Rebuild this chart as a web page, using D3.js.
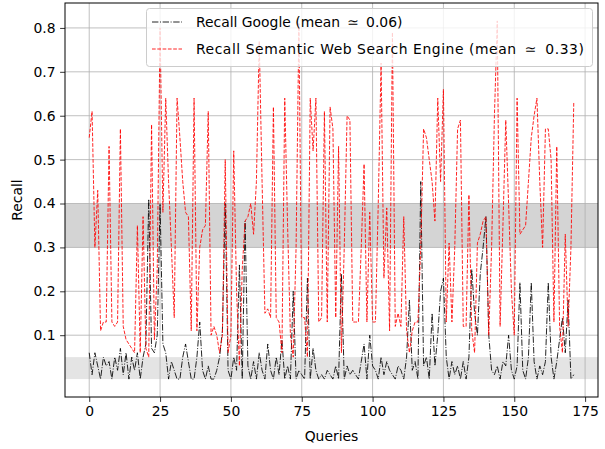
<!DOCTYPE html>
<html>
<head>
<meta charset="utf-8">
<script src="https://cdn.jsdelivr.net/npm/d3@7"></script>
<style>
  body { margin: 0; background: #fff; }
  text { font-family: "DejaVu Sans", sans-serif; fill: #000; }
</style>
</head>
<body>
<svg id="graph"></svg>
<script>
// recall per query
var recallSemantic = [
  0.55,0.61,0.30,0.43,0.11,0.13,0.13,0.53,0.13,0.12,
  0.13,0.57,0.12,0.09,0.08,0.07,0.06,0.35,0.06,0.37,
  0.07,0.05,0.58,0.09,0.25,0.80,0.38,0.64,0.45,0.30,
  0.14,0.64,0.55,0.45,0.38,0.37,0.11,0.64,0.11,0.30,
  0.34,0.35,0.61,0.10,0.12,0.10,0.06,0.10,0.50,0.06,
  0.10,0.52,0.20,0.03,0.25,0.36,0.37,0.40,0.33,0.45,
  0.77,0.45,0.15,0.16,0.14,0.62,0.14,0.13,0.06,0.64,
  0.35,0.10,0.05,0.30,0.81,0.14,0.14,0.05,0.64,0.52,
  0.64,0.13,0.14,0.61,0.13,0.62,0.57,0.14,0.53,0.06,
  0.30,0.60,0.59,0.13,0.13,0.13,0.30,0.49,0.13,0.38,0.13,
  0.13,0.40,0.72,0.23,0.39,0.11,0.79,0.12,0.15,0.12,
  0.37,0.11,0.06,0.11,0.13,0.13,0.30,0.57,0.55,0.50,
  0.45,0.36,0.64,0.45,0.66,0.13,0.31,0.13,0.30,0.57,
  0.59,0.12,0.12,0.42,0.11,0.06,0.31,0.33,0.36,0.37,
  0.10,0.30,0.60,0.816,0.12,0.35,0.59,0.40,0.20,0.10,
  0.64,0.33,0.34,0.35,0.45,0.55,0.60,0.64,0.45,0.30,
  0.57,0.57,0.50,0.13,0.53,0.12,0.06,0.33,0.12,0.30,0.63
];
var recallGoogle = [
  0.06,0.01,0.06,0.03,0.00,0.05,0.03,0.04,0.00,0.05,
  0.02,0.07,0.01,0.06,0.00,0.05,0.02,0.06,0.00,0.05,
  0.08,0.41,0.07,0.06,0.10,0.40,0.08,0.06,0.00,0.04,
  0.02,0.00,0.00,0.05,0.08,0.04,0.00,0.00,0.05,0.13,
  0.02,0.00,0.03,0.00,0.00,0.02,0.05,0.11,0.40,0.02,
  0.00,0.05,0.02,0.26,0.00,0.36,0.03,0.00,0.04,0.00,
  0.06,0.02,0.00,0.08,0.02,0.00,0.05,0.01,0.09,0.00,
  0.03,0.00,0.20,0.00,0.02,0.01,0.00,0.23,0.00,0.07,
  0.02,0.00,0.01,0.00,0.02,0.01,0.00,0.03,0.00,0.24,
  0.00,0.03,0.01,0.02,0.01,0.00,0.04,0.08,0.00,0.10,0.03,
  0.02,0.00,0.05,0.01,0.04,0.02,0.01,0.00,0.03,0.02,
  0.00,0.05,0.18,0.02,0.04,0.00,0.45,0.03,0.05,0.00,
  0.15,0.03,0.10,0.20,0.23,0.05,0.00,0.04,0.01,0.03,
  0.00,0.04,0.00,0.05,0.25,0.15,0.10,0.24,0.30,0.37,
  0.10,0.02,0.01,0.03,0.00,0.04,0.03,0.10,0.02,0.00,
  0.03,0.22,0.02,0.00,0.05,0.22,0.04,0.00,0.03,0.01,
  0.04,0.22,0.05,0.00,0.04,0.09,0.14,0.06,0.18,0.00,0.01
];
var seriesLabels = ["Recall Google (mean \u2009\u2243\u2009 0.06)",
                    "Recall Semantic Web Search Engine (mean \u2009\u2243\u2009 0.33)"];
var xTicks = [0, 25, 50, 75, 100, 125, 150, 175];
var yTicks = [0.1, 0.2, 0.3, 0.4, 0.5, 0.6, 0.7, 0.8];
var bands = [[0.3, 0.4], [0, 0.05]];

function drawChart() {
    var width = 605, height = 449;
    var margin = {top: 3, right: 7, bottom: 52, left: 65};
    var w = width - margin.left - margin.right;
    var h = height - margin.top - margin.bottom;

    var svg = d3.select("#graph")
        .attr("width", width)
        .attr("height", height);
    var g = svg.append("g")
        .attr("transform", "translate(" + margin.left + "," + margin.top + ")");

    // matplotlib style 5% margins
    var n = recallSemantic.length - 1;
    var ymax = d3.max(recallSemantic.concat(recallGoogle));
    var x = d3.scaleLinear().domain([-0.05 * n, n * 1.05]).range([0, w]);
    var y = d3.scaleLinear().domain([-0.05 * ymax, ymax * 1.05]).range([h, 0]);

    var bandColors = ["#d4d4d4", "#e4e4e4"];
    g.selectAll("rect.band")
        .data(bands)
        .enter()
        .append("rect")
        .attr("class", "band")
        .attr("x", 0)
        .attr("width", w)
        .attr("y", d => y(d[1]))
        .attr("height", d => y(d[0]) - y(d[1]))
        .attr("fill", (d, i) => bandColors[i]);

    // grid
    g.selectAll("line.vgrid").data(xTicks).enter().append("line")
        .attr("x1", d => x(d)).attr("x2", d => x(d))
        .attr("y1", 0).attr("y2", h)
        .attr("stroke", "#b0b0b0").attr("stroke-width", 0.8);
    g.selectAll("line.hgrid").data(yTicks).enter().append("line")
        .attr("y1", d => y(d)).attr("y2", d => y(d))
        .attr("x1", 0).attr("x2", w)
        .attr("stroke", "#b0b0b0").attr("stroke-width", 0.8);

    var line = d3.line()
        .x((d, i) => x(i))
        .y(d => y(d));

    g.append("path")
        .datum(recallGoogle)
        .attr("d", line)
        .attr("fill", "none")
        .attr("stroke", "#000")
        .attr("stroke-opacity", 0.85)
        .attr("stroke-width", 1)
        .attr("stroke-dasharray", "6.4,1.6,1,1.6");

    g.append("path")
        .datum(recallSemantic)
        .attr("d", line)
        .attr("fill", "none")
        .attr("stroke", "#ff0000")
        .attr("stroke-opacity", 0.85)
        .attr("stroke-width", 1)
        .attr("stroke-dasharray", "3.7,1.6");

    // axes
    var xAxis = g.append("g")
        .attr("transform", "translate(0," + h + ")")
        .call(d3.axisBottom(x).tickValues(xTicks).tickSize(4.9).tickPadding(4.5));
    var yAxis = g.append("g")
        .call(d3.axisLeft(y).tickValues(yTicks).tickSize(4.9).tickPadding(4.5).tickFormat(d3.format(".1f")));
    [xAxis, yAxis].forEach(function (a) {
        a.selectAll(".domain").remove();
        a.selectAll("line").attr("stroke", "#000").attr("stroke-width", 0.8);
        a.selectAll("text").attr("font-size", "13.9px").attr("font-family", "DejaVu Sans");
    });

    g.append("rect")
        .attr("width", w).attr("height", h)
        .attr("fill", "none").attr("stroke", "#000").attr("stroke-width", 1);

    svg.append("text")
        .attr("x", margin.left + w / 2)
        .attr("y", 441)
        .attr("text-anchor", "middle")
        .attr("font-size", "13.9px")
        .text("Queries");
    svg.append("text")
        .attr("transform", "translate(22," + (margin.top + h / 2) + ") rotate(-90)")
        .attr("text-anchor", "middle")
        .attr("font-size", "13.9px")
        .text("Recall");

    // legend
    var leg = svg.append("g");
    leg.append("rect")
        .attr("x", 146.5).attr("y", 8.5)
        .attr("width", 446).attr("height", 58)
        .attr("rx", 3)
        .attr("fill", "#fff").attr("fill-opacity", 0.8)
        .attr("stroke", "#cccccc").attr("stroke-width", 1);
    var legStyles = [
        {color: "#000", dash: "6.4,1.6,1,1.6", y: 22, spacing: 0},
        {color: "#ff0000", dash: "3.7,1.6", y: 49, spacing: 0.55}
    ];
    legStyles.forEach(function (s, i) {
        leg.append("line")
            .attr("x1", 152).attr("x2", 182)
            .attr("y1", s.y).attr("y2", s.y)
            .attr("stroke", s.color)
            .attr("stroke-opacity", 0.85)
            .attr("stroke-dasharray", s.dash);
        leg.append("text")
            .attr("x", 196)
            .attr("y", s.y + 5)
            .attr("font-size", "13.9px")
            .attr("letter-spacing", s.spacing)
            .style("white-space", "pre")
            .text(seriesLabels[i]);
    });
}

drawChart();
</script>
</body>
</html>
